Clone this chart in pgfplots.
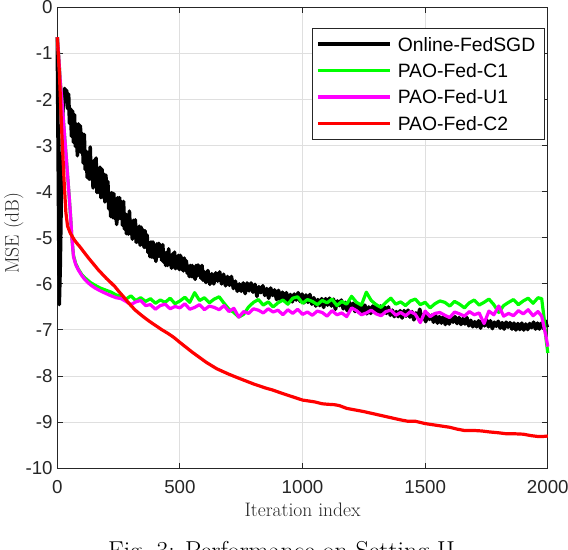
\documentclass[border=0pt]{standalone}
\usepackage{fontspec}
\usepackage{pgfplots}
\pgfplotsset{compat=1.18}
\newfontfamily\arialfont{Liberation Sans}
\definecolor{axgray}{RGB}{38,38,38}
\definecolor{gridgray}{RGB}{223,223,223}
\definecolor{mgreen}{RGB}{0,255,0}
\definecolor{mmag}{RGB}{255,0,255}
\definecolor{mred}{RGB}{255,0,0}
\begin{document}
\begin{tikzpicture}
\begin{axis}[
  at={(57.3bp,81.7bp)}, anchor=south west,
  scale only axis, width=490.5bp, height=461bp,
  xmin=0, xmax=2000, ymin=-10, ymax=0,
  clip=false,
  xtick={0,500,1000,1500,2000}, xticklabels={0,500,1000,1500,2000},
  ytick={-10,-9,...,0}, yticklabels={-10,-9,-8,-7,-6,-5,-4,-3,-2,-1,0},
  tick align=inside, major tick length=5.5bp,
  tick style={axgray, line width=1bp},
  axis line style={axgray, line width=1.1bp},
  grid=major, major grid style={gridgray, line width=1bp},
  xticklabel style={font=\arialfont\fontsize{18.8}{20}\selectfont, text=axgray, inner sep=0pt, anchor=north, yshift=-11.7bp},
  yticklabel style={font=\arialfont\fontsize{18.8}{20}\selectfont, text=axgray, inner sep=0pt, anchor=east, xshift=-4.5bp},
  xlabel={Iteration index}, ylabel={MSE (dB)},
  xlabel style={font=\fontsize{19.6}{22}\selectfont, text=axgray, inner sep=0pt, at={(axis description cs:0.5,0)}, anchor=base, yshift=-47.7bp},
  ylabel style={font=\fontsize{19.6}{22}\selectfont, text=axgray, inner sep=0pt, at={(axis description cs:-0.0791,0.5104)}, anchor=base},
  legend style={at={(1,1)}, anchor=north east, xshift=-3bp, yshift=-20.3bp,
    draw=axgray, line width=0.9bp, fill=white,
    inner xsep=3.6bp, inner ysep=9.3bp, row sep=12.6bp, column sep=6bp,
    font=\arialfont\fontsize{19.4}{21}\selectfont,
    nodes={inner sep=0pt, text height=13.8bp, text depth=0bp, text width=143bp, align=left}},
  legend cell align=left,
  legend image code/.code={\draw[#1] (0bp,0bp) -- (72bp,0bp);},
]
% Online-FedSGD
\addplot[black, line width=3.6bp, line join=round] coordinates {
(0,-0.65) (4,-3.5) (8,-6.45) (12,-5.6) (17,-3.8) (22,-2.4) (26,-1.9)
(30,-1.76) (34,-2.05) (38,-1.80) (42,-2.20) (46,-1.88) (50,-2.52) (54,-2.20) (58,-2.80) (62,-2.25) (66,-2.93)
(70,-2.33) (74,-3.02) (78,-2.54) (82,-3.22) (86,-2.53) (90,-3.12) (94,-2.57) (98,-3.15) (102,-2.74) (106,-3.38)
(110,-2.76) (114,-3.52) (118,-3.12) (122,-3.69) (126,-3.16) (130,-3.73) (134,-3.03) (138,-3.73) (142,-3.40) (146,-3.92)
(150,-3.32) (154,-3.84) (158,-3.27) (162,-4.02) (166,-3.59) (170,-4.02) (174,-3.47) (178,-4.13) (182,-3.51) (186,-4.12)
(190,-3.62) (194,-4.22) (198,-3.64) (202,-4.20) (206,-3.78) (210,-4.37) (214,-4.03) (218,-4.54) (222,-4.02) (226,-4.56)
(230,-4.04) (234,-4.58) (238,-4.18) (242,-4.71) (246,-4.13) (250,-4.59) (254,-4.13) (258,-4.58) (262,-4.22) (266,-4.73)
(270,-4.21) (274,-4.81) (278,-4.48) (282,-4.91) (286,-4.51) (290,-4.92) (294,-4.42) (298,-4.91) (302,-4.68) (306,-5.03)
(310,-4.62) (314,-4.97) (318,-4.61) (322,-5.10) (326,-4.82) (330,-5.09) (334,-4.75) (338,-5.16) (342,-4.77) (346,-5.15)
(350,-4.83) (354,-5.21) (358,-4.85) (362,-5.21) (366,-4.94) (370,-5.32) (374,-5.10) (378,-5.41) (382,-5.09) (386,-5.42)
(390,-5.09) (394,-5.43) (398,-5.17) (402,-5.51) (406,-5.13) (410,-5.41) (414,-5.12) (418,-5.40) (422,-5.16) (426,-5.49)
(430,-5.15) (434,-5.53) (438,-5.32) (442,-5.60) (446,-5.32) (450,-5.60) (454,-5.24) (458,-5.58) (462,-5.41) (466,-5.66)
(470,-5.35) (474,-5.60) (478,-5.31) (482,-5.67) (486,-5.45) (490,-5.65) (494,-5.38) (498,-5.69) (502,-5.38) (506,-5.68)
(510,-5.44) (514,-5.72) (518,-5.44) (522,-5.70) (526,-5.50) (530,-5.77) (534,-5.61) (538,-5.84) (542,-5.60) (546,-5.84)
(550,-5.60) (554,-5.85) (558,-5.65) (562,-5.90) (566,-5.60) (570,-5.83) (574,-5.59) (578,-5.81) (582,-5.62) (586,-5.88)
(590,-5.60) (594,-5.92) (598,-5.73)
(606,-5.97) (614,-5.71) (622,-6.01) (630,-5.78) (638,-6.00) (646,-5.76) (654,-5.94) (662,-5.74) (670,-6.00) (678,-5.79)
(686,-6.04) (694,-5.84) (702,-6.03) (710,-5.84) (718,-6.10) (726,-5.94) (734,-6.16) (742,-6.00) (750,-6.16) (758,-5.98)
(766,-6.21) (774,-5.98) (782,-6.15) (790,-5.98) (798,-6.18) (806,-6.01) (814,-6.27) (822,-6.06) (830,-6.19) (838,-6.04)
(846,-6.25) (854,-6.10) (862,-6.31) (870,-6.09) (878,-6.25) (886,-6.13) (894,-6.34) (902,-6.14) (910,-6.36) (918,-6.18)
(926,-6.36) (934,-6.19) (942,-6.39) (950,-6.23) (958,-6.39) (966,-6.22) (974,-6.35) (982,-6.19) (990,-6.38) (998,-6.22)
(1006,-6.41) (1014,-6.24) (1022,-6.40) (1030,-6.23) (1038,-6.44) (1046,-6.30) (1054,-6.48) (1062,-6.34) (1070,-6.47) (1078,-6.32)
(1086,-6.51) (1094,-6.32) (1102,-6.46) (1110,-6.31) (1118,-6.48) (1126,-6.33) (1134,-6.55) (1142,-6.37) (1150,-6.47) (1158,-6.35)
(1166,-6.54) (1174,-6.40) (1182,-6.58) (1190,-6.39) (1198,-6.53) (1206,-6.42) (1214,-6.60) (1222,-6.43) (1230,-6.62) (1238,-6.47)
(1246,-6.63) (1254,-6.46) (1262,-6.65) (1270,-6.50) (1278,-6.64) (1286,-6.48) (1294,-6.59) (1302,-6.46) (1310,-6.63) (1318,-6.48)
(1326,-6.65) (1334,-6.50) (1342,-6.64) (1350,-6.50) (1358,-6.68) (1366,-6.57) (1374,-6.71) (1382,-6.60) (1390,-6.71) (1398,-6.58)
(1406,-6.74) (1414,-6.58) (1422,-6.70) (1430,-6.57) (1438,-6.72) (1446,-6.60) (1454,-6.78) (1462,-6.63) (1470,-6.72) (1478,-6.55)
(1486,-6.78) (1494,-6.66) (1502,-6.82) (1510,-6.65) (1518,-6.77) (1526,-6.68) (1534,-6.83) (1542,-6.68) (1550,-6.85) (1558,-6.71)
(1566,-6.85) (1574,-6.71) (1582,-6.88) (1590,-6.74) (1598,-6.87) (1606,-6.72) (1614,-6.83) (1622,-6.71) (1630,-6.86) (1638,-6.73)
(1646,-6.88) (1654,-6.75) (1662,-6.87) (1670,-6.73) (1678,-6.91) (1686,-6.79) (1694,-6.93) (1702,-6.82) (1710,-6.93) (1718,-6.80)
(1726,-6.96) (1734,-6.79) (1742,-6.91) (1750,-6.78) (1758,-6.93) (1766,-6.80) (1774,-6.97) (1782,-6.83) (1790,-6.92) (1798,-6.81)
(1806,-6.96) (1814,-6.84) (1822,-6.98) (1830,-6.83) (1838,-6.94) (1846,-6.84) (1854,-6.98) (1862,-6.85) (1870,-7.00) (1878,-6.86)
(1886,-6.99) (1894,-6.85) (1902,-7.00) (1910,-6.87) (1918,-6.99) (1926,-6.86) (1934,-6.95) (1942,-6.83) (1950,-6.98) (1958,-6.85)
(1966,-6.98) (1974,-6.85) (1982,-6.95) (1990,-6.80) (1998,-6.94)
};
\addlegendentry{Online-FedSGD}
% PAO-Fed-C1
\addplot[mgreen, line width=3.2bp, line join=round] coordinates {
(0,-0.65) (5,-1.0) (12,-1.6) (20,-2.1) (30,-2.8) (40,-3.5) (49,-4.14) (55,-4.6) (59,-4.97) (66,-5.38)
(75,-5.56) (86,-5.68) (100,-5.80) (113,-5.87) (135,-5.97) (154,-6.03) (175,-6.09) (195,-6.13) (220,-6.18) (240,-6.24)
(260,-6.27) (280,-6.33) (300,-6.26) (320,-6.36) (340,-6.30) (360,-6.38) (380,-6.32) (400,-6.42) (420,-6.35) (440,-6.40)
(460,-6.31) (480,-6.43) (500,-6.37) (520,-6.29) (540,-6.40) (560,-6.19) (580,-6.36) (600,-6.30) (620,-6.41) (640,-6.33)
(660,-6.28) (680,-6.42) (700,-6.55) (720,-6.62) (740,-6.72) (760,-6.66) (780,-6.50) (800,-6.40) (820,-6.34) (840,-6.46)
(860,-6.39) (880,-6.50) (900,-6.41) (920,-6.35) (940,-6.44) (960,-6.31) (980,-6.28) (1000,-6.42) (1020,-6.34) (1040,-6.38)
(1060,-6.45) (1080,-6.36) (1100,-6.41) (1120,-6.33) (1140,-6.47) (1160,-6.38) (1180,-6.44) (1200,-6.27) (1220,-6.40) (1240,-6.46)
(1260,-6.18) (1280,-6.36) (1300,-6.45) (1320,-6.51) (1340,-6.40) (1360,-6.31) (1380,-6.44) (1400,-6.39) (1420,-6.47) (1440,-6.37)
(1460,-6.33) (1480,-6.45) (1500,-6.40) (1520,-6.52) (1540,-6.43) (1560,-6.37) (1580,-6.40) (1600,-6.48) (1620,-6.38) (1640,-6.44)
(1660,-6.52) (1680,-6.41) (1700,-6.35) (1720,-6.46) (1740,-6.40) (1760,-6.33) (1780,-6.45) (1800,-6.62) (1820,-6.47) (1840,-6.40)
(1860,-6.34) (1880,-6.45) (1900,-6.37) (1920,-6.31) (1940,-6.42) (1960,-6.30) (1975,-6.32) (1985,-6.75) (1993,-7.2) (2000,-7.5)
};
\addlegendentry{PAO-Fed-C1}
% PAO-Fed-U1
\addplot[mmag, line width=3.2bp, line join=round] coordinates {
(0,-0.65) (5,-1.0) (12,-1.6) (20,-2.1) (30,-2.8) (40,-3.5) (49,-4.14) (55,-4.6) (59,-4.97) (66,-5.41)
(75,-5.58) (86,-5.70) (100,-5.82) (113,-5.91) (135,-6.02) (154,-6.09) (175,-6.15) (195,-6.20) (220,-6.26) (240,-6.30)
(260,-6.32) (280,-6.38) (300,-6.45) (320,-6.39) (340,-6.36) (360,-6.47) (380,-6.45) (400,-6.55) (420,-6.47) (440,-6.44)
(460,-6.54) (480,-6.49) (500,-6.52) (520,-6.43) (540,-6.55) (560,-6.51) (580,-6.45) (600,-6.56) (620,-6.48) (640,-6.51)
(660,-6.56) (680,-6.47) (700,-6.60) (720,-6.53) (740,-6.72) (760,-6.60) (780,-6.64) (800,-6.54) (820,-6.57) (840,-6.63)
(860,-6.54) (880,-6.61) (900,-6.57) (920,-6.67) (940,-6.56) (960,-6.64) (980,-6.55) (1000,-6.66) (1020,-6.61) (1040,-6.68)
(1060,-6.59) (1080,-6.62) (1100,-6.70) (1120,-6.58) (1140,-6.67) (1160,-6.63) (1180,-6.71) (1200,-6.52) (1220,-6.58) (1240,-6.67)
(1260,-6.63) (1280,-6.57) (1300,-6.65) (1320,-6.69) (1340,-6.60) (1360,-6.57) (1380,-6.68) (1400,-6.62) (1420,-6.69) (1440,-6.60)
(1460,-6.66) (1480,-6.84) (1500,-6.59) (1520,-6.71) (1540,-6.64) (1560,-6.62) (1580,-6.68) (1600,-6.73) (1620,-6.61) (1640,-6.65)
(1660,-6.70) (1680,-6.60) (1700,-6.67) (1720,-6.63) (1740,-6.86) (1760,-6.59) (1780,-6.67) (1800,-6.48) (1820,-6.70) (1840,-6.64)
(1860,-6.69) (1880,-6.58) (1900,-6.65) (1920,-6.56) (1940,-6.69) (1960,-6.60) (1975,-6.70) (1985,-6.95) (1993,-7.15) (2000,-7.36)
};
\addlegendentry{PAO-Fed-U1}
% PAO-Fed-C2
\addplot[mred, line width=3.2bp, line join=round] coordinates {
(0,-0.65) (8,-1.36) (19,-2.8) (28,-3.8) (35,-4.45) (42,-4.75) (53,-4.9) (62,-4.98) (70,-5.05) (80,-5.12)
(90,-5.18) (100,-5.25) (113,-5.34) (126,-5.43) (140,-5.52) (154,-5.61) (168,-5.70) (184,-5.79) (200,-5.88) (218,-5.97)
(235,-6.06) (252,-6.17) (270,-6.28) (292,-6.42) (316,-6.56) (336,-6.65) (355,-6.73) (375,-6.81) (400,-6.90) (425,-6.99)
(450,-7.07) (475,-7.16) (500,-7.27) (550,-7.48) (607,-7.70) (650,-7.84) (700,-7.96) (742,-8.05) (800,-8.17) (850,-8.26)
(877,-8.30) (920,-8.38) (960,-8.45) (1000,-8.52) (1050,-8.56) (1080,-8.60) (1100,-8.61) (1130,-8.62) (1150,-8.64) (1180,-8.70)
(1200,-8.72) (1250,-8.77) (1300,-8.83) (1350,-8.89) (1400,-8.95) (1430,-8.98) (1460,-8.98) (1500,-9.03) (1550,-9.07) (1600,-9.11)
(1630,-9.15) (1660,-9.18) (1700,-9.18) (1730,-9.19) (1760,-9.21) (1800,-9.23) (1830,-9.25) (1860,-9.25) (1900,-9.26) (1930,-9.29)
(1960,-9.31) (1980,-9.31) (2000,-9.30)
};
\addlegendentry{PAO-Fed-C2}
\end{axis}
\node[font=\fontsize{26}{30}\selectfont, anchor=base] at (281.5bp,-9.5bp) {Fig.\ 3: Performance on Setting II};
\pgfresetboundingbox
\path[use as bounding box] (0,0) rectangle (568bp,550bp);
\end{tikzpicture}
\end{document}
